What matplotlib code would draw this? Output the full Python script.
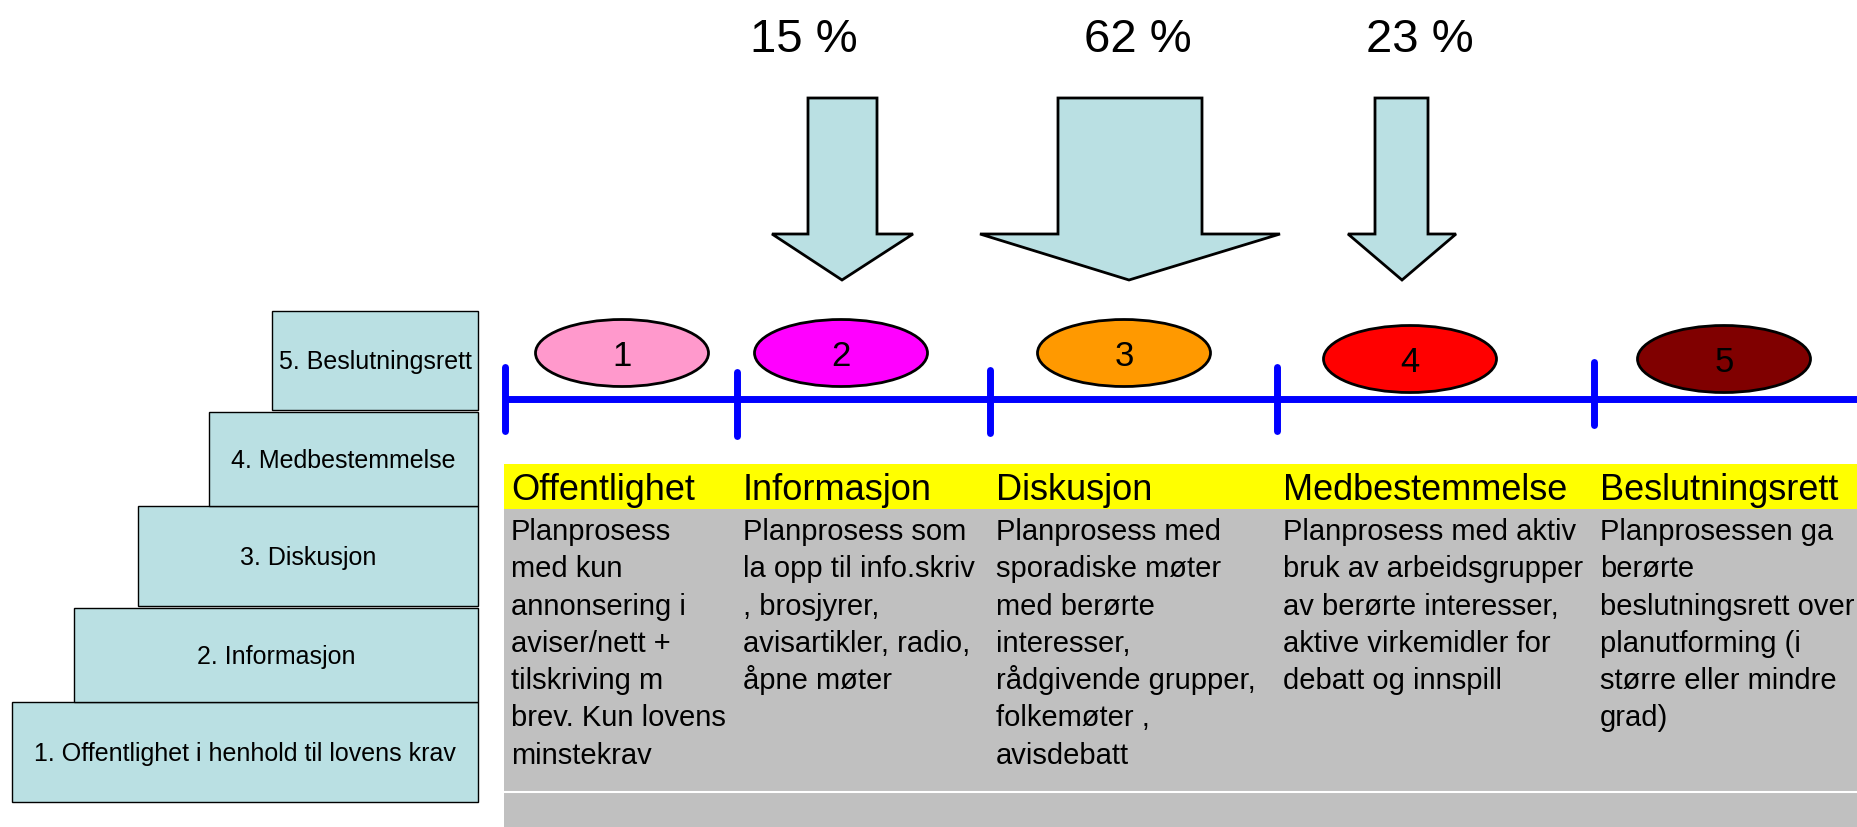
import matplotlib.pyplot as plt
from matplotlib.patches import Rectangle, Ellipse, Polygon

plt.rcParams['font.family'] = ['Liberation Sans', 'DejaVu Sans']

# Stairs (lowest first)
levels = ["1. Offentlighet i henhold til lovens krav", "2. Informasjon",
          "3. Diskusjon", "4. Medbestemmelse", "5. Beslutningsrett"]

# Share of answers per arrow
shares = ["15 %", "62 %", "23 %"]

# Stage headers and descriptions
stages = ["Offentlighet", "Informasjon", "Diskusjon", "Medbestemmelse", "Beslutningsrett"]
descriptions = [
    ["Planprosess", "med kun", "annonsering i", "aviser/nett +", "tilskriving m",
     "brev. Kun lovens", "minstekrav"],
    ["Planprosess som", "la opp til info.skriv", ", brosjyrer,",
     "avisartikler, radio,", "åpne møter"],
    ["Planprosess med", "sporadiske møter", "med berørte", "interesser,",
     "rådgivende grupper,", "folkemøter ,", "avisdebatt"],
    ["Planprosess med aktiv", "bruk av arbeidsgrupper", "av berørte interesser,",
     "aktive virkemidler for", "debatt og innspill"],
    ["Planprosessen ga", "berørte", "beslutningsrett over", "planutforming (i",
     "større eller mindre", "grad)"],
]
stage_colors = ["#FF99CC", "#FF00FF", "#FF9900", "#FF0000", "#800000"]

# layout (pixels)
stair_left = [12, 74, 138, 209, 272]
stair_top = [703, 609, 507, 413, 312]
stair_bottom = [803, 703, 607, 507, 411]
stair_right = 478
box_fill = "#BAE0E3"

tick_x = [505, 737, 990, 1277, 1594]
tick_top = [368, 373, 371, 368, 363]
tick_bot = [432, 437, 434, 432, 426]
ell_x = [622, 841, 1124, 1410, 1724]
ell_y = [354, 354, 354, 360, 360]

# arrows: shaft left, shaft right, head left, head right, tip x
arrows = [(808, 877, 772, 913, 842),
          (1058, 1202, 980, 1280, 1129),
          (1375, 1428, 1348, 1456, 1402)]
share_x = [804, 1138, 1420]

W, H = 1858, 828
fig = plt.figure(figsize=(W / 100, H / 100), dpi=100)
ax = fig.add_axes([0, 0, 1, 1])
ax.set_xlim(0, W)
ax.set_ylim(H, 0)
ax.axis('off')

# staircase
for lab, l, t, b in zip(levels, stair_left, stair_top, stair_bottom):
    ax.add_patch(Rectangle((l, t), stair_right - l, b - t, facecolor=box_fill,
                           edgecolor='black', lw=1.0, zorder=2))
    ax.text((l + stair_right) / 2, (t + b) / 2 + 8, lab, ha='center', va='baseline',
            fontsize=18, zorder=3)

# arrows + percentages
for (sl, sr, hl, hr, tip), lab, sx in zip(arrows, shares, share_x):
    pts = [(sl, 99), (sr, 99), (sr, 235), (hr, 235), (tip, 281), (hl, 235), (sl, 235)]
    ax.add_patch(Polygon(pts, closed=True, facecolor=box_fill, edgecolor='black',
                         lw=2, joinstyle='miter', zorder=2))
    ax.text(sx, 52, lab, ha='center', va='baseline', fontsize=34)

# timeline
ax.plot([tick_x[0], W], [400, 400], color='#0000FF', lw=5, solid_capstyle='butt', zorder=2)
for x, t, b in zip(tick_x, tick_top, tick_bot):
    ax.plot([x, x], [t, b], color='#0000FF', lw=5, solid_capstyle='round', zorder=2)

for i, (x, y, c) in enumerate(zip(ell_x, ell_y, stage_colors)):
    ax.add_patch(Ellipse((x, y), 173, 67, facecolor=c, edgecolor='black', lw=2, zorder=3))
    ax.text(x, y + 12, str(i + 1), ha='center', va='baseline', fontsize=25, zorder=4)

# table
ax.add_patch(Rectangle((504, 465), W - 504, 45, facecolor='#FFFF00', edgecolor='none'))
ax.add_patch(Rectangle((504, 510), W - 504, H - 510, facecolor='#C0C0C0', edgecolor='none'))
ax.plot([504, W], [793, 793], color='white', lw=1.5)

for x, head, lines in zip(tick_x, stages, descriptions):
    ax.text(x + 6, 500, head, ha='left', va='baseline', fontsize=26)
    for j, line in enumerate(lines):
        ax.text(x + 6, 540 + j * 37.3, line, ha='left', va='baseline', fontsize=21)

fig.savefig('out.png', dpi=100)
